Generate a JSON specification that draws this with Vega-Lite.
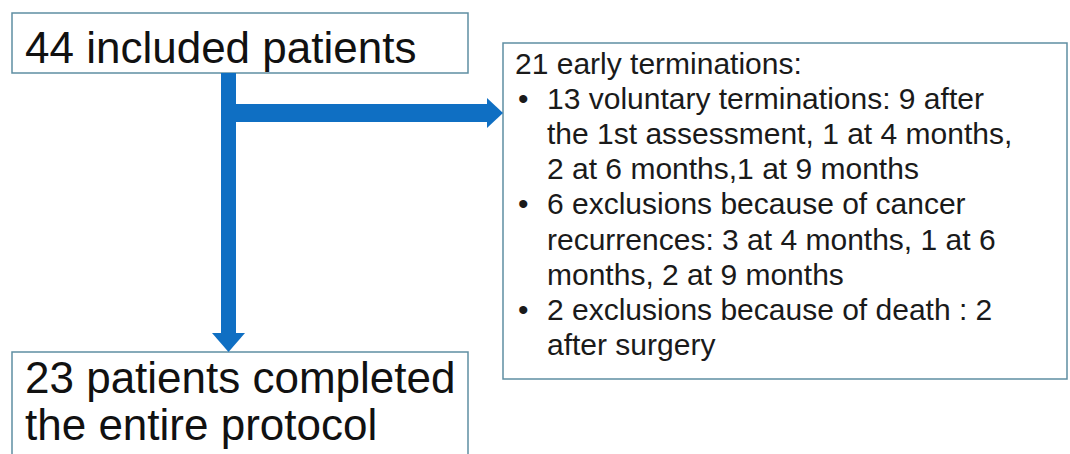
{
  "$schema": "https://vega.github.io/schema/vega-lite/v6.json",
  "width": 1070,
  "height": 454,
  "padding": 0,
  "autosize": {"type": "fit", "contains": "padding"},
  "background": "white",
  "config": {"view": {"stroke": null}},
  "datasets": {
    "boxes": [
      {"name": "included", "x0": 12, "x1": 468, "y0": 13, "y1": 73},
      {"name": "terminations", "x0": 503, "x1": 1067, "y0": 43, "y1": 379},
      {"name": "completed", "x0": 12, "x1": 468, "y0": 352, "y1": 458}
    ],
    "shafts": [
      {"part": "vertical", "x0": 221, "x1": 236, "y0": 73, "y1": 334},
      {"part": "horizontal", "x0": 236, "x1": 488, "y0": 104, "y1": 122}
    ],
    "headRight": [{"x": 495, "y": 113}],
    "headDown": [{"x": 228.5, "y": 342.5}],
    "bigText": [
      {"x": 25, "y": 63, "t": "44 included patients"},
      {"x": 25, "y": 393, "t": "23 patients completed"},
      {"x": 25, "y": 440, "t": "the entire protocol"}
    ],
    "smallText": [
      {"x": 515, "y": 74, "t": "21 early terminations:"},
      {"x": 518, "y": 108.5, "t": "•"},
      {"x": 547, "y": 108.5, "t": "13 voluntary terminations: 9 after"},
      {"x": 547, "y": 143.5, "t": "the 1st assessment, 1 at 4 months,"},
      {"x": 547, "y": 179, "t": "2 at 6 months,1 at 9 months"},
      {"x": 518, "y": 214, "t": "•"},
      {"x": 547, "y": 214, "t": "6 exclusions because of cancer"},
      {"x": 547, "y": 249.5, "t": "recurrences: 3 at 4 months, 1 at 6"},
      {"x": 547, "y": 285, "t": "months, 2 at 9 months"},
      {"x": 518, "y": 320, "t": "•"},
      {"x": 547, "y": 320, "t": "2 exclusions because of death : 2"},
      {"x": 547, "y": 355, "t": "after surgery"}
    ]
  },
  "layer": [
    {
      "data": {"name": "boxes"},
      "mark": {"type": "rect", "fill": "white", "stroke": "#5f8fa2", "strokeWidth": 1.5, "clip": true},
      "encoding": {
        "x": {"field": "x0", "type": "quantitative", "scale": {"domain": [0, 1070], "nice": false, "zero": false}, "axis": null},
        "x2": {"field": "x1"},
        "y": {"field": "y0", "type": "quantitative", "scale": {"domain": [0, 454], "nice": false, "zero": false, "reverse": true}, "axis": null},
        "y2": {"field": "y1"}
      }
    },
    {
      "data": {"name": "shafts"},
      "mark": {"type": "rect", "fill": "#0f6fc3", "strokeWidth": 0},
      "encoding": {
        "x": {"field": "x0", "type": "quantitative", "scale": {"domain": [0, 1070], "nice": false, "zero": false}, "axis": null},
        "x2": {"field": "x1"},
        "y": {"field": "y0", "type": "quantitative", "scale": {"domain": [0, 454], "nice": false, "zero": false, "reverse": true}, "axis": null},
        "y2": {"field": "y1"}
      }
    },
    {
      "data": {"name": "headRight"},
      "mark": {"type": "point", "filled": true, "fill": "#0f6fc3", "opacity": 1, "strokeWidth": 0, "shape": "M-0.533,-1L0.533,0L-0.533,1Z", "size": 900},
      "encoding": {
        "x": {"field": "x", "type": "quantitative", "scale": {"domain": [0, 1070], "nice": false, "zero": false}, "axis": null},
        "y": {"field": "y", "type": "quantitative", "scale": {"domain": [0, 454], "nice": false, "zero": false, "reverse": true}, "axis": null}
      }
    },
    {
      "data": {"name": "headDown"},
      "mark": {"type": "point", "filled": true, "fill": "#0f6fc3", "opacity": 1, "strokeWidth": 0, "shape": "M-1,-0.576L1,-0.576L0,0.576Z", "size": 1089},
      "encoding": {
        "x": {"field": "x", "type": "quantitative", "scale": {"domain": [0, 1070], "nice": false, "zero": false}, "axis": null},
        "y": {"field": "y", "type": "quantitative", "scale": {"domain": [0, 454], "nice": false, "zero": false, "reverse": true}, "axis": null}
      }
    },
    {
      "data": {"name": "bigText"},
      "mark": {"type": "text", "font": "Liberation Sans", "fontSize": 44, "align": "left", "baseline": "alphabetic", "color": "#111111"},
      "encoding": {
        "x": {"field": "x", "type": "quantitative", "scale": {"domain": [0, 1070], "nice": false, "zero": false}, "axis": null},
        "y": {"field": "y", "type": "quantitative", "scale": {"domain": [0, 454], "nice": false, "zero": false, "reverse": true}, "axis": null},
        "text": {"field": "t", "type": "nominal"}
      }
    },
    {
      "data": {"name": "smallText"},
      "mark": {"type": "text", "font": "Liberation Sans", "fontSize": 30, "align": "left", "baseline": "alphabetic", "color": "#1a1a1a"},
      "encoding": {
        "x": {"field": "x", "type": "quantitative", "scale": {"domain": [0, 1070], "nice": false, "zero": false}, "axis": null},
        "y": {"field": "y", "type": "quantitative", "scale": {"domain": [0, 454], "nice": false, "zero": false, "reverse": true}, "axis": null},
        "text": {"field": "t", "type": "nominal"}
      }
    }
  ]
}
